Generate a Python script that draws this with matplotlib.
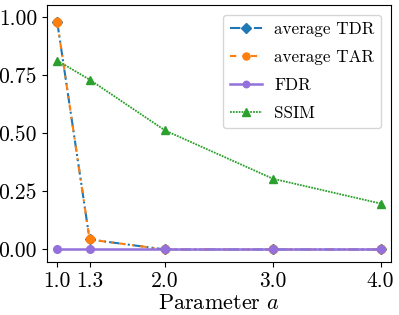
import matplotlib
matplotlib.use("Agg")
import matplotlib.pyplot as plt

plt.rcParams['font.family'] = 'serif'
plt.rcParams['font.serif'] = ['cmr10']
plt.rcParams['mathtext.fontset'] = 'cm'
plt.rcParams['axes.formatter.use_mathtext'] = True

x = [1.0, 1.3, 2.0, 3.0, 4.0]
tdr = [0.98, 0.043, 0.0, 0.0, 0.0]
tar = [0.98, 0.043, 0.0, 0.0, 0.0]
fdr = [0.0, 0.0, 0.0, 0.0, 0.0]
ssim = [0.814, 0.732, 0.513, 0.305, 0.198]
xticks = [1.0, 1.3, 2.0, 3.0, 4.0]
yticks = [0.0, 0.25, 0.5, 0.75, 1.0]

fig = plt.figure(figsize=(3.99, 3.15), dpi=100)
ax = fig.add_axes([0.117, 0.169, 0.862, 0.814])
ax.plot(x, tdr, color='C0', linestyle=(0, (5, 1.5, 1, 1.5, 1, 1.5)), lw=1.5, marker='D', markersize=5.5, label='average TDR')
ax.plot(x, tar, color='C1', linestyle=(0, (3, 3, 1, 3)), lw=1.5, marker='o', markersize=6, label='average TAR')
ax.plot(x, fdr, color='mediumpurple', linestyle='-', lw=1.8, marker='o', markersize=5.5, label='FDR')
ax.plot(x, ssim, color='C2', linestyle=(0, (1, 0.6)), lw=1.3, marker='^', markersize=6, label='SSIM')
ax.set_xticks(xticks)
ax.set_xticklabels([f"{v:.1f}" for v in xticks])
ax.set_yticks(yticks)
ax.set_yticklabels([f"{v:.2f}" for v in yticks])
ax.tick_params(labelsize=15.5)
ax.set_xlim(0.902, 4.093)
ax.set_ylim(-0.053, 1.052)
ax.set_xlabel(r'Parameter $a$', fontsize=16, labelpad=2)
ax.legend(fontsize=12.3, loc='upper right', labelspacing=0.75, borderaxespad=0.55,
          markerscale=0.85, handlelength=1.9, handletextpad=0.7)
fig.savefig('out.png', dpi=100)
